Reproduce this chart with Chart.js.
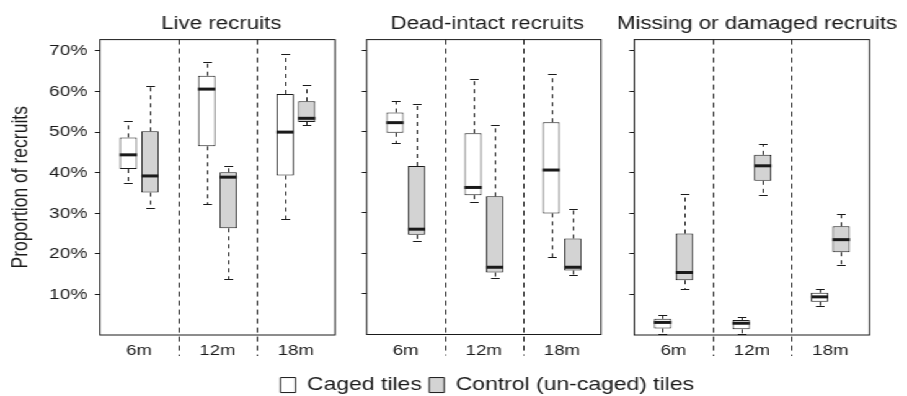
<!DOCTYPE html>
<html>
<head>
<meta charset="utf-8">
<script src="https://cdn.jsdelivr.net/npm/chart.js@4.4.1/dist/chart.umd.min.js"></script>
<style>
    html, body { margin: 0; padding: 0; background: #fff; overflow: hidden; }
    body { width: 907px; height: 396px; position: relative; }
    /* the reference figure is stretched sideways, so the whole row is drawn narrow and scaled */
    #wrap { position: absolute; left: 0; top: 0; width: 731.5px; height: 396px;
            transform: scaleX(1.24); transform-origin: 0 0; }
    canvas { position: absolute; top: 0; }
</style>
</head>
<body>
<div id="wrap">
    <canvas id="live" width="357" height="396" style="left:0px"></canvas>
    <canvas id="dead" width="500" height="410" style="left:143px"></canvas>
    <canvas id="missing" width="243" height="396" style="left:489px"></canvas>
</div>
<script>
// ── Data ──

const GROUPS = ["6m", "12m", "18m"];
const SERIES = ["Caged tiles", "Control (un-caged) tiles"];
const PANEL_TITLES = ["Live recruits", "Dead-intact recruits", "Missing or damaged recruits"];
const Y_TICKS = [0.1, 0.2, 0.3, 0.4, 0.5, 0.6, 0.7];

// five-number summaries per group: [min, q1, median, q3, max]
const LIVE_CAGED = [
    [0.374, 0.409, 0.444, 0.487, 0.528],
    [0.323, 0.465, 0.606, 0.639, 0.673],
    [0.285, 0.393, 0.500, 0.594, 0.692],
];
const LIVE_CONTROL = [
    [0.314, 0.351, 0.392, 0.502, 0.614],
    [0.138, 0.263, 0.389, 0.401, 0.417],
    [0.517, 0.525, 0.534, 0.576, 0.616],
];
const DEAD_CAGED = [
    [0.472, 0.498, 0.523, 0.548, 0.576],
    [0.326, 0.344, 0.363, 0.497, 0.630],
    [0.192, 0.299, 0.406, 0.524, 0.643],
];
const DEAD_CONTROL = [
    [0.231, 0.246, 0.260, 0.416, 0.570],
    [0.139, 0.153, 0.166, 0.341, 0.516],
    [0.147, 0.158, 0.166, 0.237, 0.309],
];
const MISSING_CAGED = [
    [0.002, 0.016, 0.031, 0.040, 0.049],
    [0.002, 0.014, 0.029, 0.037, 0.045],
    [0.071, 0.082, 0.094, 0.104, 0.114],
];
const MISSING_CONTROL = [
    [0.114, 0.135, 0.154, 0.250, 0.347],
    [0.345, 0.380, 0.417, 0.444, 0.471],
    [0.172, 0.204, 0.235, 0.268, 0.299],
];

const INK = "#1a1a1a";
const FILLS = ["#ffffff", "#d3d3d3"];
const FONT = "'Liberation Sans', Arial, Helvetica, sans-serif";

Chart.defaults.font.family = FONT;
Chart.defaults.color = INK;

// ── Whiskers, medians, group separators and frame ──

function stroke(ctx, x1, y1, x2, y2) {
    ctx.beginPath();
    ctx.moveTo(x1, y1);
    ctx.lineTo(x2, y2);
    ctx.stroke();
}

const crisp = (v) => Math.round(v) + 0.5;

const boxExtras = {
    id: "boxExtras",
    afterDatasetsDraw(chart) {
        const { ctx, chartArea: area, scales: { x, y } } = chart;
        ctx.save();
        ctx.strokeStyle = INK;

        chart.data.datasets.forEach((ds, di) => {
            chart.getDatasetMeta(di).data.forEach((bar, i) => {
                const [lo, q1, med, q3, hi] = ds.stats[i];
                const cx = crisp(bar.x);
                const half = bar.width / 2;
                const yLo = crisp(y.getPixelForValue(lo));
                const yHi = crisp(y.getPixelForValue(hi));

                ctx.lineWidth = 1;
                ctx.setLineDash([4, 4]);
                stroke(ctx, cx, y.getPixelForValue(q3), cx, yHi);
                stroke(ctx, cx, y.getPixelForValue(q1), cx, yLo);
                ctx.setLineDash([]);
                stroke(ctx, cx - half / 2, yHi, cx + half / 2, yHi);
                stroke(ctx, cx - half / 2, yLo, cx + half / 2, yLo);

                ctx.lineWidth = 3;
                const yMed = y.getPixelForValue(med);
                stroke(ctx, bar.x - half, yMed, bar.x + half, yMed);
            });
        });

        ctx.lineWidth = 1;
        ctx.setLineDash([5, 4]);
        for (let i = 0; i < GROUPS.length - 1; i++) {
            const sx = crisp((x.getPixelForValue(i) + x.getPixelForValue(i + 1)) / 2);
            stroke(ctx, sx, area.top, sx, area.bottom + 21);
        }
        ctx.setLineDash([]);
        ctx.strokeRect(area.left, area.top, area.width, area.height);
        ctx.restore();
    },
};

// ── One panel ──

function renderPanel(id, title, caged, control, layout) {
    const ctx = document.getElementById(id).getContext("2d");
    const stats = [caged, control];

    return new Chart(ctx, {
        type: "bar",
        data: {
            labels: GROUPS,
            datasets: SERIES.map((name, k) => ({
                label: name,
                data: stats[k].map((s) => [s[1], s[3]]),
                stats: stats[k],
                backgroundColor: FILLS[k],
                borderColor: INK,
                borderWidth: 1,
                borderSkipped: false,
                categoryPercentage: 0.552,
                barPercentage: 0.8,
            })),
        },
        options: {
            responsive: false,
            animation: false,
            events: [],
            layout: { padding: { left: 0, top: 0, right: 0, bottom: layout.bottom } },
            plugins: {
                title: {
                    display: true,
                    text: title,
                    font: { size: 18, weight: "normal" },
                    color: INK,
                    padding: { top: 13, bottom: 5 },
                },
                legend: {
                    display: layout.legend,
                    position: "bottom",
                    labels: {
                        boxWidth: 12.1,
                        boxHeight: 15,
                        padding: 6,
                        font: { size: 18.5 },
                        color: INK,
                    },
                },
                tooltip: { enabled: false },
            },
            scales: {
                x: {
                    type: "category",
                    grid: { display: false, drawTicks: false },
                    border: { display: false },
                    ticks: { padding: 7, font: { size: 15 }, color: INK },
                    afterFit: (axis) => { axis.height = layout.xHeight; },
                },
                y: {
                    min: 0,
                    max: 0.728,
                    afterBuildTicks: (axis) => { axis.ticks = Y_TICKS.map((v) => ({ value: v })); },
                    grid: { display: true, drawOnChartArea: false, drawTicks: true, tickLength: 4, color: INK },
                    border: { display: false },
                    ticks: {
                        display: layout.labels,
                        padding: 6,
                        font: { size: 15.5 },
                        color: INK,
                        callback: (v) => Math.round(v * 100) + "%",
                    },
                    title: {
                        display: layout.labels,
                        text: "Proportion of recruits",
                        font: { size: 17.5 },
                        color: INK,
                        padding: { top: 7, bottom: 0 },
                    },
                    afterFit: (axis) => { axis.width = layout.yWidth; },
                },
                // empty right-hand axis that only reserves space, so the title stays centred on the canvas
                spacer: {
                    type: "linear",
                    position: "right",
                    grid: { display: false, drawTicks: false },
                    border: { display: false },
                    ticks: { display: false },
                    afterFit: (axis) => { axis.width = layout.right; },
                },
            },
        },
        plugins: [boxExtras],
    });
}

renderPanel("live", PANEL_TITLES[0], LIVE_CAGED, LIVE_CONTROL,
    { yWidth: 80.6, right: 86.8, bottom: 31, xHeight: 30, labels: true, legend: false });
renderPanel("dead", PANEL_TITLES[1], DEAD_CAGED, DEAD_CONTROL,
    { yWidth: 152.7, right: 158.3, bottom: 5.7, xHeight: 35.3, labels: false, legend: true });
renderPanel("missing", PANEL_TITLES[2], MISSING_CAGED, MISSING_CONTROL,
    { yWidth: 22.5, right: 30.7, bottom: 31, xHeight: 30, labels: false, legend: false });
</script>
</body>
</html>
